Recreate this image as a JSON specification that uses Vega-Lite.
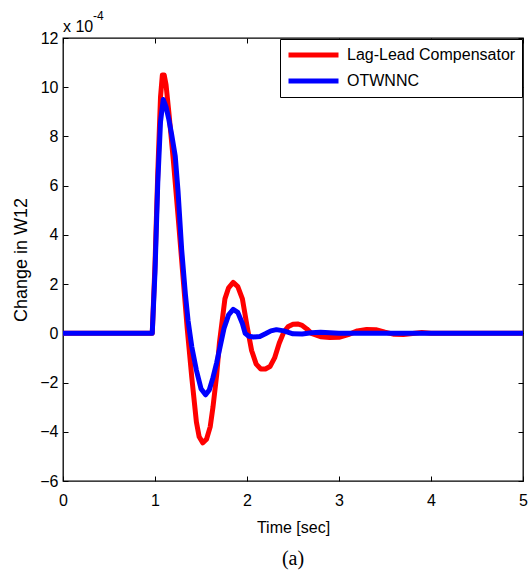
{
  "$schema": "https://vega.github.io/schema/vega-lite/v6.json",
  "width": 460,
  "height": 443,
  "autosize": {"type": "none"},
  "padding": {"left": 63, "top": 38, "right": 5, "bottom": 89},
  "background": "white",
  "title": {"text": "(a)", "orient": "bottom", "font": "Liberation Serif", "fontSize": 20, "fontWeight": "normal", "color": "black", "offset": 14},
  "config": {
    "view": {"stroke": "black", "strokeWidth": 1.3},
    "axis": {"grid": false, "domain": false, "labelFlush": false, "labelOverlap": false, "labelFont": "Liberation Sans", "titleFont": "Liberation Sans", "labelFontSize": 16, "titleFontSize": 16, "titleFontWeight": "normal", "labelColor": "black", "titleColor": "black", "tickColor": "black", "tickSize": -5, "tickWidth": 1}
  },
  "data": {"values": [
    {"t": 0, "v": 0, "s": "Lag-Lead Compensator"},
    {"t": 0.97, "v": 0, "s": "Lag-Lead Compensator"},
    {"t": 1.0, "v": 2.8, "s": "Lag-Lead Compensator"},
    {"t": 1.03, "v": 6.5, "s": "Lag-Lead Compensator"},
    {"t": 1.06, "v": 9.6, "s": "Lag-Lead Compensator"},
    {"t": 1.08, "v": 10.5, "s": "Lag-Lead Compensator"},
    {"t": 1.10, "v": 10.5, "s": "Lag-Lead Compensator"},
    {"t": 1.12, "v": 10.1, "s": "Lag-Lead Compensator"},
    {"t": 1.15, "v": 9.0, "s": "Lag-Lead Compensator"},
    {"t": 1.2, "v": 7.0, "s": "Lag-Lead Compensator"},
    {"t": 1.25, "v": 4.8, "s": "Lag-Lead Compensator"},
    {"t": 1.3, "v": 2.5, "s": "Lag-Lead Compensator"},
    {"t": 1.35, "v": 0.2, "s": "Lag-Lead Compensator"},
    {"t": 1.4, "v": -1.8, "s": "Lag-Lead Compensator"},
    {"t": 1.45, "v": -3.6, "s": "Lag-Lead Compensator"},
    {"t": 1.48, "v": -4.2, "s": "Lag-Lead Compensator"},
    {"t": 1.52, "v": -4.45, "s": "Lag-Lead Compensator"},
    {"t": 1.56, "v": -4.3, "s": "Lag-Lead Compensator"},
    {"t": 1.6, "v": -3.8, "s": "Lag-Lead Compensator"},
    {"t": 1.63, "v": -3.0, "s": "Lag-Lead Compensator"},
    {"t": 1.67, "v": -1.7, "s": "Lag-Lead Compensator"},
    {"t": 1.7, "v": -0.4, "s": "Lag-Lead Compensator"},
    {"t": 1.73, "v": 0.5, "s": "Lag-Lead Compensator"},
    {"t": 1.76, "v": 1.4, "s": "Lag-Lead Compensator"},
    {"t": 1.8, "v": 1.85, "s": "Lag-Lead Compensator"},
    {"t": 1.85, "v": 2.07, "s": "Lag-Lead Compensator"},
    {"t": 1.9, "v": 1.9, "s": "Lag-Lead Compensator"},
    {"t": 1.95, "v": 1.4, "s": "Lag-Lead Compensator"},
    {"t": 2.0, "v": 0.3, "s": "Lag-Lead Compensator"},
    {"t": 2.05, "v": -0.7, "s": "Lag-Lead Compensator"},
    {"t": 2.1, "v": -1.25, "s": "Lag-Lead Compensator"},
    {"t": 2.15, "v": -1.45, "s": "Lag-Lead Compensator"},
    {"t": 2.2, "v": -1.45, "s": "Lag-Lead Compensator"},
    {"t": 2.25, "v": -1.35, "s": "Lag-Lead Compensator"},
    {"t": 2.3, "v": -1.0, "s": "Lag-Lead Compensator"},
    {"t": 2.35, "v": -0.4, "s": "Lag-Lead Compensator"},
    {"t": 2.4, "v": 0.05, "s": "Lag-Lead Compensator"},
    {"t": 2.45, "v": 0.28, "s": "Lag-Lead Compensator"},
    {"t": 2.5, "v": 0.37, "s": "Lag-Lead Compensator"},
    {"t": 2.55, "v": 0.38, "s": "Lag-Lead Compensator"},
    {"t": 2.6, "v": 0.32, "s": "Lag-Lead Compensator"},
    {"t": 2.65, "v": 0.18, "s": "Lag-Lead Compensator"},
    {"t": 2.7, "v": 0.0, "s": "Lag-Lead Compensator"},
    {"t": 2.8, "v": -0.14, "s": "Lag-Lead Compensator"},
    {"t": 2.9, "v": -0.17, "s": "Lag-Lead Compensator"},
    {"t": 3.0, "v": -0.16, "s": "Lag-Lead Compensator"},
    {"t": 3.1, "v": -0.05, "s": "Lag-Lead Compensator"},
    {"t": 3.2, "v": 0.1, "s": "Lag-Lead Compensator"},
    {"t": 3.3, "v": 0.16, "s": "Lag-Lead Compensator"},
    {"t": 3.4, "v": 0.15, "s": "Lag-Lead Compensator"},
    {"t": 3.5, "v": 0.05, "s": "Lag-Lead Compensator"},
    {"t": 3.6, "v": -0.04, "s": "Lag-Lead Compensator"},
    {"t": 3.7, "v": -0.05, "s": "Lag-Lead Compensator"},
    {"t": 3.8, "v": -0.01, "s": "Lag-Lead Compensator"},
    {"t": 3.9, "v": 0.03, "s": "Lag-Lead Compensator"},
    {"t": 4.0, "v": 0, "s": "Lag-Lead Compensator"},
    {"t": 5.0, "v": 0, "s": "Lag-Lead Compensator"},
    {"t": 0, "v": 0, "s": "OTWNNC"},
    {"t": 0.97, "v": 0, "s": "OTWNNC"},
    {"t": 1.0, "v": 2.5, "s": "OTWNNC"},
    {"t": 1.03, "v": 6.1, "s": "OTWNNC"},
    {"t": 1.06, "v": 8.6, "s": "OTWNNC"},
    {"t": 1.09, "v": 9.5, "s": "OTWNNC"},
    {"t": 1.12, "v": 9.2, "s": "OTWNNC"},
    {"t": 1.15, "v": 8.7, "s": "OTWNNC"},
    {"t": 1.18, "v": 8.1, "s": "OTWNNC"},
    {"t": 1.22, "v": 7.2, "s": "OTWNNC"},
    {"t": 1.25, "v": 5.8, "s": "OTWNNC"},
    {"t": 1.29, "v": 3.4, "s": "OTWNNC"},
    {"t": 1.33, "v": 1.6, "s": "OTWNNC"},
    {"t": 1.36, "v": 0.5, "s": "OTWNNC"},
    {"t": 1.4, "v": -0.55, "s": "OTWNNC"},
    {"t": 1.45, "v": -1.5, "s": "OTWNNC"},
    {"t": 1.5, "v": -2.25, "s": "OTWNNC"},
    {"t": 1.55, "v": -2.5, "s": "OTWNNC"},
    {"t": 1.59, "v": -2.3, "s": "OTWNNC"},
    {"t": 1.63, "v": -1.8, "s": "OTWNNC"},
    {"t": 1.67, "v": -1.2, "s": "OTWNNC"},
    {"t": 1.71, "v": -0.5, "s": "OTWNNC"},
    {"t": 1.75, "v": 0.2, "s": "OTWNNC"},
    {"t": 1.8, "v": 0.75, "s": "OTWNNC"},
    {"t": 1.85, "v": 0.97, "s": "OTWNNC"},
    {"t": 1.9, "v": 0.85, "s": "OTWNNC"},
    {"t": 1.95, "v": 0.4, "s": "OTWNNC"},
    {"t": 1.98, "v": 0.0, "s": "OTWNNC"},
    {"t": 2.02, "v": -0.12, "s": "OTWNNC"},
    {"t": 2.07, "v": -0.15, "s": "OTWNNC"},
    {"t": 2.14, "v": -0.13, "s": "OTWNNC"},
    {"t": 2.2, "v": -0.02, "s": "OTWNNC"},
    {"t": 2.26, "v": 0.1, "s": "OTWNNC"},
    {"t": 2.32, "v": 0.15, "s": "OTWNNC"},
    {"t": 2.4, "v": 0.1, "s": "OTWNNC"},
    {"t": 2.5, "v": -0.02, "s": "OTWNNC"},
    {"t": 2.6, "v": -0.03, "s": "OTWNNC"},
    {"t": 2.7, "v": 0.02, "s": "OTWNNC"},
    {"t": 2.8, "v": 0.04, "s": "OTWNNC"},
    {"t": 2.9, "v": 0.02, "s": "OTWNNC"},
    {"t": 3.0, "v": 0, "s": "OTWNNC"},
    {"t": 5.0, "v": 0, "s": "OTWNNC"}
  ]},
  "resolve": {"axis": {"x": "independent", "y": "independent"}},
  "layer": [
    {
      "mark": {"type": "line", "strokeWidth": 5, "strokeJoin": "round", "strokeCap": "round", "clip": true},
      "encoding": {
        "x": {"field": "t", "type": "quantitative", "scale": {"domain": [0, 5], "nice": false},
          "axis": {"orient": "bottom", "values": [0, 1, 2, 3, 4, 5], "title": "Time [sec]", "labelPadding": 16, "titlePadding": 11}},
        "y": {"field": "v", "type": "quantitative", "scale": {"domain": [-6, 12], "nice": false, "zero": false},
          "axis": {"orient": "left", "values": [-6, -4, -2, 0, 2, 4, 6, 8, 10, 12], "title": "Change in W12", "titleFontSize": 18, "labelPadding": 10, "titlePadding": 9}},
        "color": {"field": "s", "type": "nominal",
          "scale": {"domain": ["Lag-Lead Compensator", "OTWNNC"], "range": ["#ff0000", "#0000ff"]},
          "legend": {"title": null, "orient": "top-right", "offset": 1, "fillColor": "white", "strokeColor": "black", "padding": 6, "symbolType": "stroke", "symbolSize": 2500, "symbolStrokeWidth": 5, "clipHeight": 20, "labelFont": "Liberation Sans", "labelFontSize": 16, "labelColor": "black", "labelOffset": 6, "rowPadding": 6, "labelLimit": 300, "cornerRadius": 0}}
      }
    },
    {
      "data": {"values": [{}]},
      "mark": {"type": "text", "text": "x 10", "align": "left", "baseline": "alphabetic", "dy": -6, "fontSize": 16, "font": "Liberation Sans", "color": "black"},
      "encoding": {
        "x": {"datum": 0, "type": "quantitative", "axis": {"orient": "top", "values": [0, 1, 2, 3, 4, 5], "labels": false, "title": null}},
        "y": {"datum": 12, "type": "quantitative", "axis": {"orient": "right", "values": [-6, -4, -2, 0, 2, 4, 6, 8, 10, 12], "labels": false, "title": null}}
      }
    },
    {
      "data": {"values": [{}]},
      "mark": {"type": "text", "text": "-4", "align": "left", "baseline": "alphabetic", "dx": 30, "dy": -18, "fontSize": 12, "font": "Liberation Sans", "color": "black"},
      "encoding": {
        "x": {"datum": 0, "type": "quantitative", "axis": null},
        "y": {"datum": 12, "type": "quantitative", "axis": null}
      }
    }
  ]
}
